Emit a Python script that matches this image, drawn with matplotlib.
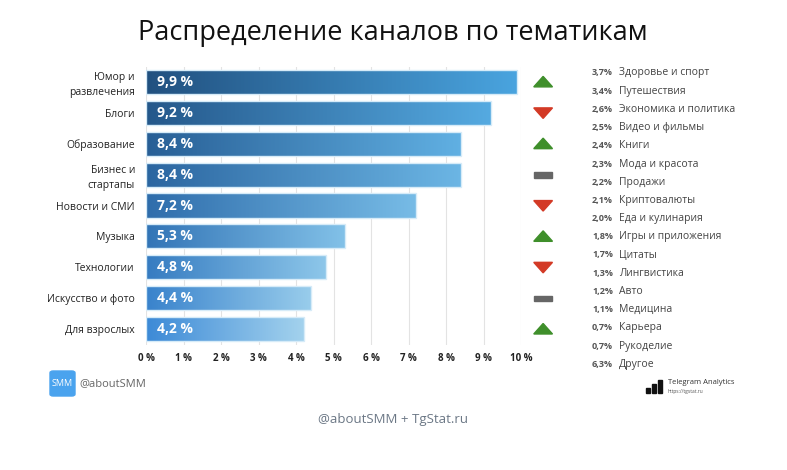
import matplotlib
matplotlib.use("Agg")
import matplotlib.pyplot as plt
import numpy as np
from matplotlib.colors import to_rgb
from matplotlib.patches import FancyBboxPatch, Rectangle, Polygon

plt.rcParams['font.family'] = ['Open Sans', 'DejaVu Sans']

categories = ["Юмор и\nразвлечения", "Блоги", "Образование", "Бизнес и\nстартапы",
              "Новости и СМИ", "Музыка", "Технологии", "Искусство и фото", "Для взрослых"]
values = [9.9, 9.2, 8.4, 8.4, 7.2, 5.3, 4.8, 4.4, 4.2]
value_labels = ["9,9 %", "9,2 %", "8,4 %", "8,4 %", "7,2 %", "5,3 %", "4,8 %", "4,4 %", "4,2 %"]
trends = ["up", "down", "up", "flat", "down", "up", "down", "flat", "up"]

other_values = ["3,7%", "3,4%", "2,6%", "2,5%", "2,4%", "2,3%", "2,2%", "2,1%", "2,0%",
                "1,8%", "1,7%", "1,3%", "1,2%", "1,1%", "0,7%", "0,7%", "6,3%"]
other_names = ["Здоровье и спорт", "Путешествия", "Экономика и политика", "Видео и фильмы",
               "Книги", "Мода и красота", "Продажи", "Криптовалюты", "Еда и кулинария",
               "Игры и приложения", "Цитаты", "Лингвистика", "Авто", "Медицина",
               "Карьера", "Рукоделие", "Другое"]

ticks = list(range(11))
tick_labels = [f"{t} %" for t in ticks]

fig = plt.figure(figsize=(7.87, 4.70), dpi=100)
ax = fig.add_axes([146 / 787, 1 - 344.5 / 470, 375 / 787, 278 / 470])

n = len(values)
ax.set_xlim(0, 10)
ax.set_ylim(n - 0.5, -0.5)

for t in ticks:
    ax.axvline(t, color="#e3e3e3", lw=0.8, zorder=0)

left_top, left_bot = np.array(to_rgb("#21507f")), np.array(to_rgb("#3a88d6"))
right_top, right_bot = np.array(to_rgb("#4aa5e0")), np.array(to_rgb("#a6d4ee"))
bh = 0.78
xm = 10.59
bars = ax.barh(range(n), values, height=bh, color="none", ec="#d6ebf8", lw=1.0, zorder=3)
for i, (v, bar) in enumerate(zip(values, bars)):
    f = i / (n - 1)
    lc = left_top * (1 - f) + left_bot * f
    rc = right_top * (1 - f) + right_bot * f
    s = np.linspace(0, 1, 200)[None, :, None]
    grad = np.repeat(lc[None, None, :] * (1 - s) + rc[None, None, :] * s, 4, axis=0)
    im = ax.imshow(grad, extent=(-0.1, v + 0.1, i + 0.5, i - 0.5), aspect="auto",
                   interpolation="bilinear", zorder=2)
    im.set_clip_path(bar)
    ax.text(0.3, i, value_labels[i], color="white", fontsize=10, fontweight="bold",
            va="center", ha="left", zorder=4)
    # trend markers
    if trends[i] == "up":
        tri = [(xm - 0.25, i + 0.16), (xm + 0.25, i + 0.16), (xm, i - 0.18)]
        ax.add_patch(Polygon(tri, closed=True, color="#3f8f2b", clip_on=False, zorder=4))
    elif trends[i] == "down":
        tri = [(xm - 0.25, i - 0.16), (xm + 0.25, i - 0.16), (xm, i + 0.18)]
        ax.add_patch(Polygon(tri, closed=True, color="#d33a26", clip_on=False, zorder=4))
    else:
        ax.add_patch(Rectangle((xm - 0.24, i - 0.08), 0.48, 0.18, color="#666666",
                               clip_on=False, zorder=4))

ax.set_xlim(0, 10)
ax.set_ylim(n - 0.5, -0.5)
ax.set_yticks(range(n))
ax.set_yticklabels(categories, fontsize=7.5, color="#222222", linespacing=1.5)
ax.set_xticks(ticks)
ax.set_xticklabels(tick_labels, fontsize=7, fontweight="bold", color="#222222")
ax.tick_params(length=0, pad=6)
ax.tick_params(axis="y", pad=8)
for sp in ax.spines.values():
    sp.set_visible(False)

fig.text(393 / 787, 1 - 33 / 470, "Распределение каналов по тематикам", ha="center",
         va="center", fontsize=19.5, color="#111111")

# right-hand list of other topics
y0, dy = 73, 18.2
for k, (val, name) in enumerate(zip(other_values, other_names)):
    y = 1 - (y0 + k * dy) / 470
    fig.text(613 / 787, y, val, ha="right", va="center", fontsize=6.5,
             fontweight="bold", color="#555555")
    fig.text(619 / 787, y, name, ha="left", va="center", fontsize=7.5, color="#444444")

# footer logos
fig.patches.append(FancyBboxPatch((50 / 787, 1 - 396 / 470), 25 / 787, 25 / 470,
                                  boxstyle="round,pad=0,rounding_size=0.004",
                                  transform=fig.transFigure, color="#4aa3ee"))
fig.text(62.5 / 787, 1 - 383.5 / 470, "SMM", ha="center", va="center", fontsize=6.5, color="white")
fig.text(79 / 787, 1 - 384 / 470, "@aboutSMM", ha="left", va="center", fontsize=8, color="#666666")

for j, h in enumerate([5, 9, 13]):
    fig.patches.append(Rectangle(((646 + j * 6) / 787, 1 - 393 / 470), 4 / 787, h / 470,
                                 transform=fig.transFigure, color="#111111"))
fig.text(668 / 787, 1 - 382 / 470, "Telegram Analytics", ha="left", va="center",
         fontsize=5.5, color="#333333")
fig.text(668 / 787, 1 - 391 / 470, "https://tgstat.ru", ha="left", va="center",
         fontsize=3.5, color="#555555")

fig.text(393 / 787, 1 - 419 / 470, "@aboutSMM + TgStat.ru", ha="center", va="center",
         fontsize=9.5, color="#6b7785")

fig.savefig("out.png", dpi=100, facecolor="white")
